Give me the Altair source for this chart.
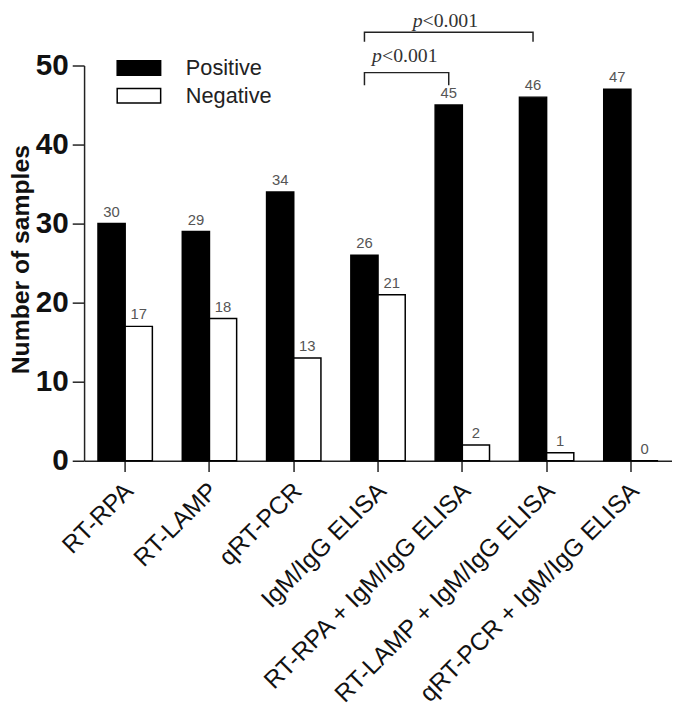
import altair as alt
import pandas as pd

categories = [
    "RT-RPA", "RT-LAMP", "qRT-PCR", "IgM/IgG ELISA",
    "RT-RPA + IgM/IgG ELISA", "RT-LAMP + IgM/IgG ELISA", "qRT-PCR + IgM/IgG ELISA",
]
positive = [30, 29, 34, 26, 45, 46, 47]
negative = [17, 18, 13, 21, 2, 1, 0]
groups = ["Positive", "Negative"]

# significance brackets (from, to), heights in axis units
bracket_from = ["IgM/IgG ELISA", "IgM/IgG ELISA"]
bracket_to = ["RT-RPA + IgM/IgG ELISA", "RT-LAMP + IgM/IgG ELISA"]
bracket_top = [49.1, 54.2]
bracket_bottom = [47.5, 53.0]
p_label_y = [50.4, 54.9]
p_label_dx = [4, 45]

rows = []
for c, p, n in zip(categories, positive, negative):
    rows.append({"method": c, "group": "Positive", "count": p})
    rows.append({"method": c, "group": "Negative", "count": n})
df = pd.DataFrame(rows)

brows = []
for i, (a, b, t, bt) in enumerate(zip(bracket_from, bracket_to, bracket_top, bracket_bottom)):
    brows += [
        {"id": i, "ord": 0, "method": a, "y": bt, "group": "Positive"},
        {"id": i, "ord": 1, "method": a, "y": t, "group": "Positive"},
        {"id": i, "ord": 2, "method": b, "y": t, "group": "Positive"},
        {"id": i, "ord": 3, "method": b, "y": bt, "group": "Positive"},
    ]
bdf = pd.DataFrame(brows)

FONT = "Liberation Sans"
SERIF = "Liberation Serif"

xenc = alt.X(
    "method:N", sort=categories,
    scale=alt.Scale(paddingInner=0.355, paddingOuter=0.165),
    axis=alt.Axis(
        title=None, labelAngle=315, labelAlign="right", labelBaseline="middle",
        labelFont=FONT, labelFontSize=25, labelColor="#111", labelPadding=15,
        labelOffset=4, tickSize=11, tickWidth=1.5, tickColor="#222",
        domainColor="#222", domainWidth=1.5, labelLimit=400,
    ),
)
xoff = alt.XOffset("group:N", sort=groups, scale=alt.Scale(paddingInner=0, paddingOuter=0))
yscale = alt.Scale(domain=[0, 50], nice=False)

bars = alt.Chart(df).mark_bar(stroke="black", strokeWidth=1.5).encode(
    x=xenc,
    xOffset=xoff,
    y=alt.Y(
        "count:Q", scale=yscale,
        axis=alt.Axis(
            title="Number of samples", values=[0, 10, 20, 30, 40, 50],
            labelFont=FONT, labelFontSize=30, labelFontWeight="bold", labelColor="#111",
            labelPadding=4, tickSize=12, tickWidth=1.5, tickColor="#222",
            domainColor="#222", domainWidth=1.5, grid=False,
            titleFont=FONT, titleFontSize=25, titleFontWeight="bold", titleColor="#111",
            titleAngle=270, titleX=-64, titleY=196, titleAlign="center",
            titleBaseline="middle",
        ),
    ),
    fill=alt.Fill(
        "group:N", sort=groups,
        scale=alt.Scale(domain=groups, range=["black", "white"]),
        legend=alt.Legend(
            title=None, orient="none", legendX=40, legendY=-13,
            symbolType="M-1.5,-0.5H1.5V0.5H-1.5Z", symbolSize=860,
            symbolStrokeColor="black", symbolStrokeWidth=1.5,
            labelFont=FONT, labelFontSize=22, labelColor="#222", labelOffset=32,
            rowPadding=1, symbolOpacity=1,
        ),
    ),
)

values = alt.Chart(df).mark_text(
    baseline="bottom", dy=-4, font=FONT, fontSize=15, color="#555"
).encode(x=alt.X("method:N", sort=categories), xOffset=xoff, y=alt.Y("count:Q", scale=yscale), text="count:Q")

brackets = alt.Chart(bdf).mark_line(color="#222", strokeWidth=1.5).encode(
    x=alt.X("method:N", sort=categories),
    xOffset=xoff,
    y=alt.Y("y:Q", scale=yscale),
    detail="id:N",
    order="ord:Q",
)

layers = [bars, values, brackets]
for i in range(len(bracket_from)):
    tdf = pd.DataFrame({"method": [bracket_from[i]], "y": [p_label_y[i]]})
    layers.append(
        alt.Chart(tdf).mark_text(
            text="p", font=SERIF, fontStyle="italic", fontSize=20, color="#333",
            align="right", baseline="alphabetic", dx=p_label_dx[i],
        ).encode(x=alt.X("method:N", sort=categories), y=alt.Y("y:Q", scale=yscale))
    )
    layers.append(
        alt.Chart(tdf).mark_text(
            text="<0.001", font=SERIF, fontSize=20, color="#333",
            align="left", baseline="alphabetic", dx=p_label_dx[i],
        ).encode(x=alt.X("method:N", sort=categories), y=alt.Y("y:Q", scale=yscale))
    )

chart = alt.layer(*layers).properties(
    width=595, height=400,
    autosize=alt.AutoSizeParams(type="none"),
    padding={"left": 77, "top": 54, "right": 0, "bottom": 244},
).configure_view(stroke=None)

chart.save("out.html", embed_options={"renderer": "svg", "actions": False})
